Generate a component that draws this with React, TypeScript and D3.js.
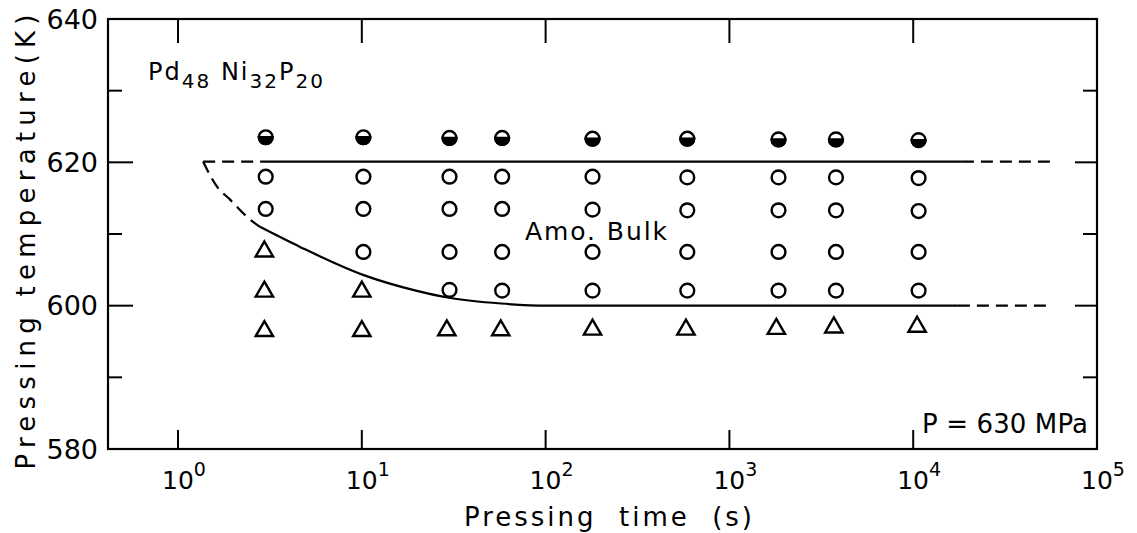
import React from "react";
import * as d3 from "d3";

// ---- data ----
const xTickExps = [0, 1, 2, 3, 4, 5];
const yTicksMajor = [600, 620];
const yTicksMinor = [590, 610, 630];
const yLabels = [580, 600, 620, 640];

const halfFilled: [number, number][] = [
  [3, 623.5], [10.2, 623.5], [30, 623.4], [58, 623.4], [180, 623.3],
  [590, 623.3], [1850, 623.2], [3800, 623.2], [10700, 623.1],
];

const openCircles: [number, number][] = [
  [3, 618], [3, 613.5],
  [10.2, 618], [10.2, 613.5], [10.2, 607.5],
  [30, 618], [30, 613.5], [30, 607.5], [30, 602.2],
  [58, 618], [58, 613.5], [58, 607.5], [58, 602.1],
  [180, 618], [180, 613.4], [180, 607.5], [180, 602.1],
  [590, 617.9], [590, 613.3], [590, 607.5], [590, 602.1],
  [1850, 617.9], [1850, 613.3], [1850, 607.5], [1850, 602.1],
  [3800, 617.9], [3800, 613.3], [3800, 607.5], [3800, 602.1],
  [10700, 617.8], [10700, 613.2], [10700, 607.5], [10700, 602.1],
];

const triangles: [number, number][] = [
  [2.95, 607.7], [2.95, 602.1], [2.95, 596.6],
  [10, 602.1], [10, 596.6],
  [29, 596.7], [57, 596.7], [180, 596.8], [580, 596.8],
  [1800, 596.9], [3700, 597.1], [10500, 597.2],
];

const upperDashL: [number, number][] = [[1.37, 620.1], [2.9, 620.1]];
const upperSolid: [number, number][] = [[2.9, 620.1], [18400, 620.1]];
const upperDashR: [number, number][] = [[18400, 620.1], [59000, 620.1]];

const lowerDash: [number, number][] = [
  [1.37, 620.1], [1.63, 616.6], [1.92, 614.8], [2.37, 612.4], [2.79, 611.0],
];
const lowerSolid: [number, number][] = [
  [2.79, 611.0], [4.61, 608.2], [10.15, 604.3], [19.7, 602.1],
  [29.8, 601.1], [57.2, 600.3], [101.8, 600.0], [17500, 600.0],
];
const lowerDashR: [number, number][] = [[17500, 600.0], [55500, 600.0]];

// ---- layout ----
const W = 1137;
const H = 533;
const left = 108;
const right = 1097;
const top = 19;
const bottom = 449;
const FONT = "'DejaVu Sans', sans-serif";

export default function App() {
  const x = d3.scaleLog().domain([Math.pow(10, -0.381), 1e5]).range([left, right]);
  const y = d3.scaleLinear().domain([580, 640]).range([bottom, top]);

  const line = d3
    .line<[number, number]>()
    .x((d) => x(d[0]))
    .y((d) => y(d[1]))
    .curve(d3.curveMonotoneX);

  const triSym = d3.symbol().type(d3.symbolTriangle).size(130)();
  const r = 6.9;
  const dash = "12,7";

  return (
    <svg
      width={W}
      height={H}
      style={{ position: "absolute", left: 0, top: 0, background: "#fff" }}
      fontFamily={FONT}
    >
      <rect x={0} y={0} width={W} height={H} fill="#fff" />
      {/* frame */}
      <rect
        x={left}
        y={top}
        width={right - left}
        height={bottom - top}
        fill="none"
        stroke="#000"
        strokeWidth={2.2}
      />
      {/* x ticks */}
      {xTickExps.slice(0, 5).map((e) => (
        <g key={"xt" + e}>
          <line x1={x(Math.pow(10, e))} x2={x(Math.pow(10, e))} y1={bottom} y2={bottom - 19} stroke="#000" strokeWidth={2} />
          <line x1={x(Math.pow(10, e))} x2={x(Math.pow(10, e))} y1={top} y2={top + 24} stroke="#000" strokeWidth={2} />
        </g>
      ))}
      {/* y ticks */}
      {yTicksMajor.map((v) => (
        <g key={"ym" + v}>
          <line x1={left} x2={left + 25} y1={y(v)} y2={y(v)} stroke="#000" strokeWidth={2} />
          <line x1={right} x2={right - 22} y1={y(v)} y2={y(v)} stroke="#000" strokeWidth={2} />
        </g>
      ))}
      {yTicksMinor.map((v) => (
        <g key={"yn" + v}>
          <line x1={left} x2={left + 14} y1={y(v)} y2={y(v)} stroke="#000" strokeWidth={2} />
          <line x1={right} x2={right - 14} y1={y(v)} y2={y(v)} stroke="#000" strokeWidth={2} />
        </g>
      ))}
      {/* y labels */}
      {yLabels.map((v) => (
        <text key={"yl" + v} x={98} y={y(v)} dy="0.36em" textAnchor="end" fontSize={27}>
          {v}
        </text>
      ))}
      {/* x labels */}
      {xTickExps.map((e) => (
        <text key={"xl" + e} x={x(Math.pow(10, e)) - 16} y={489} fontSize={25}>
          10
          <tspan dy={-13} fontSize={19}>
            {e}
          </tspan>
        </text>
      ))}
      {/* axis titles */}
      <text x={464} y={526} fontSize={26} textLength={288} lengthAdjust="spacing" xmlSpace="preserve">
        Pressing  time  (s)
      </text>
      <text
        transform={`translate(35,${242}) rotate(-90)`}
        textAnchor="middle"
        fontSize={26}
        textLength={455}
        lengthAdjust="spacing"
      >
        Pressing temperature(K)
      </text>
      {/* annotations */}
      <text x={148} y={80} fontSize={24} textLength={175} lengthAdjust="spacing">
        Pd
        <tspan dy={8} fontSize={20}>48</tspan>
        <tspan dy={-8}> Ni</tspan>
        <tspan dy={8} fontSize={20}>32</tspan>
        <tspan dy={-8}>P</tspan>
        <tspan dy={8} fontSize={20}>20</tspan>
      </text>
      <text x={525} y={240} fontSize={25} textLength={142} lengthAdjust="spacing">
        Amo. Bulk
      </text>
      <text x={922} y={433} fontSize={26} textLength={166} lengthAdjust="spacing">
        P = 630 MPa
      </text>
      {/* boundary lines */}
      <g fill="none" stroke="#000" strokeWidth={2.2}>
        <path d={line(upperDashL) || ""} strokeDasharray={dash} />
        <path d={line(upperSolid) || ""} />
        <path d={line(upperDashR) || ""} strokeDasharray={dash} />
        <path d={line(lowerDash) || ""} strokeDasharray={dash} />
        <path d={line(lowerSolid) || ""} />
        <path d={line(lowerDashR) || ""} strokeDasharray={dash} />
      </g>
      {/* markers */}
      {openCircles.map((d, i) => (
        <circle key={"oc" + i} cx={x(d[0])} cy={y(d[1])} r={r} fill="#fff" stroke="#000" strokeWidth={2.4} />
      ))}
      {halfFilled.map((d, i) => (
        <g key={"hf" + i} transform={`translate(${x(d[0])},${y(d[1])})`}>
          <circle r={r} fill="#fff" stroke="#000" strokeWidth={2.4} />
          <path d={`M${-r},0 A${r},${r} 0 0 0 ${r},0 Z`} fill="#000" stroke="#000" strokeWidth={2.4} />
        </g>
      ))}
      {triangles.map((d, i) => (
        <path
          key={"tr" + i}
          d={triSym || ""}
          transform={`translate(${x(d[0])},${y(d[1]) + 1})`}
          fill="none"
          stroke="#000"
          strokeWidth={2.4}
          strokeLinejoin="miter"
        />
      ))}
    </svg>
  );
}
